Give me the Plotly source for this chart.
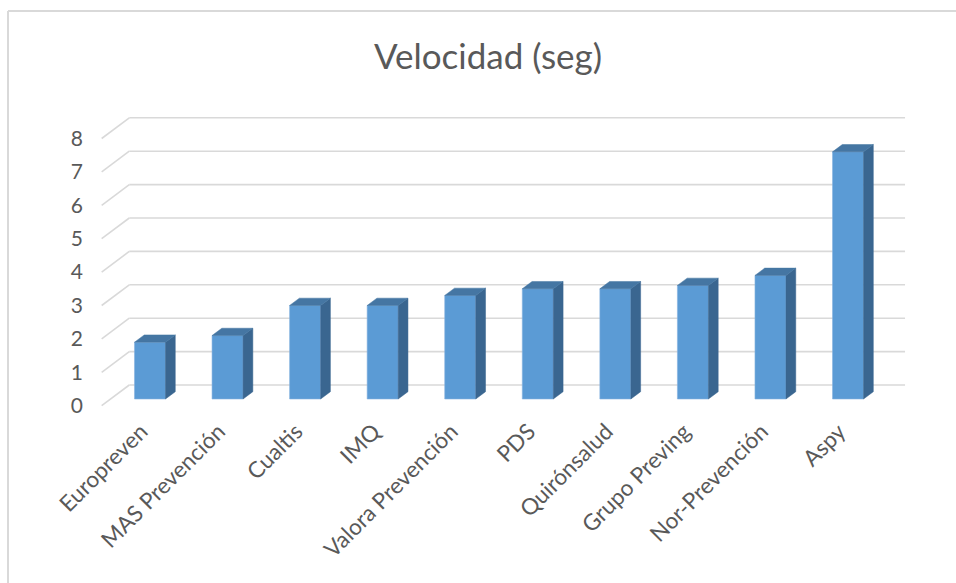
import plotly.graph_objects as go

categories = ["Europreven", "MAS Prevención", "Cualtis", "IMQ", "Valora Prevención",
              "PDS", "Quirónsalud", "Grupo Preving", "Nor-Prevención", "Aspy"]
values = [1.7, 1.9, 2.8, 2.8, 3.1, 3.3, 3.3, 3.4, 3.7, 7.4]
y_ticks = [0, 1, 2, 3, 4, 5, 6, 7, 8]

# geometry of the 3-D look (axis units)
BW = 0.40               # bar width
SX, SY = 0.126, 0.219   # bar depth offset
FX, FY = -0.115, -0.201 # front plane offset relative to bar plane
BX, BY = 0.241, 0.419   # back wall offset relative to bar plane
X_LEFT = -0.508         # left wall x at bar plane
X_RIGHT = 9.494         # right end of back wall at bar plane

xs = list(range(len(categories)))

fig = go.Figure()

# gridlines (below the bars): left-wall diagonals + back-wall lines
grid_shapes = []
for k in y_ticks:
    grid_shapes.append(dict(type="line", xref="x", yref="y", layer="below",
                            x0=X_LEFT + FX, y0=k + FY, x1=X_LEFT + BX, y1=k + BY,
                            line=dict(color="#d9d9d9", width=1.6)))
    grid_shapes.append(dict(type="line", xref="x", yref="y", layer="below",
                            x0=X_LEFT + BX, y0=k + BY, x1=X_RIGHT + BX, y1=k + BY,
                            line=dict(color="#d9d9d9", width=1.6)))

# front faces
fig.add_trace(go.Bar(x=xs, y=values, width=BW,
                     marker=dict(color="#5b9bd5", line=dict(color="#86b2df", width=0.6)),
                     showlegend=False))

# side and top faces
sx, sy = [], []
tx, ty = [], []
for x, v in zip(xs, values):
    r = x + BW / 2
    l = x - BW / 2
    sx += [r, r + SX, r + SX, r, r, None]
    sy += [0, SY, v + SY, v, 0, None]
    tx += [l, r, r + SX, l + SX, l, None]
    ty += [v, v, v + SY, v + SY, v, None]
fig.add_trace(go.Scatter(x=sx, y=sy, mode="lines", fill="toself",
                         fillcolor="#3a6690", line=dict(color="#3a6690", width=0.5),
                         hoverinfo="skip", showlegend=False))
fig.add_trace(go.Scatter(x=tx, y=ty, mode="lines", fill="toself",
                         fillcolor="#4576a3", line=dict(color="#4576a3", width=0.5),
                         hoverinfo="skip", showlegend=False))

L, R, T, B = 84, 41, 100, 170
W, H = 956, 583
ppx = 77.56
ppy = 33.4
x0 = (L - 150) / ppx
x1 = (W - R - 150) / ppx
y0 = (399 - (H - B)) / ppy
y1 = (399 - T) / ppy
PW, PH = W - L - R, H - T - B

FONT = "Lato, Open Sans, sans-serif"
border = [
    dict(type="line", xref="paper", yref="paper",
         x0=(8 - L) / PW, x1=(W + 10 - L) / PW,
         y0=((H - B) - 11) / PH, y1=((H - B) - 11) / PH,
         line=dict(color="#d9d9d9", width=2)),
    dict(type="line", xref="paper", yref="paper",
         x0=(8 - L) / PW, x1=(8 - L) / PW,
         y0=((H - B) - 11) / PH, y1=((H - B) - H - 10) / PH,
         line=dict(color="#d9d9d9", width=2)),
]

fig.update_layout(
    width=W, height=H,
    margin=dict(l=L, r=R, t=T, b=B),
    plot_bgcolor="white", paper_bgcolor="white",
    font=dict(family=FONT, color="#595959"),
    title=dict(text="Velocidad (seg)", x=(488 - L) / PW, xref="paper",
               xanchor="center", y=1 - 57 / H, yref="container", yanchor="middle",
               font=dict(size=35, color="#595959", family=FONT)),
    xaxis=dict(range=[x0, x1], showgrid=False, zeroline=False, showline=False,
               tickvals=[x + FX for x in xs], ticktext=categories, tickangle=-45,
               tickfont=dict(size=22.5, color="#595959"), ticks=""),
    yaxis=dict(range=[y0, y1], showgrid=False, zeroline=False, showline=False,
               tickvals=[k + FY for k in y_ticks], ticktext=[str(k) for k in y_ticks],
               tickfont=dict(size=21, color="#595959"), ticks=""),
    shapes=grid_shapes + border,
)

fig.write_html("out.html")
